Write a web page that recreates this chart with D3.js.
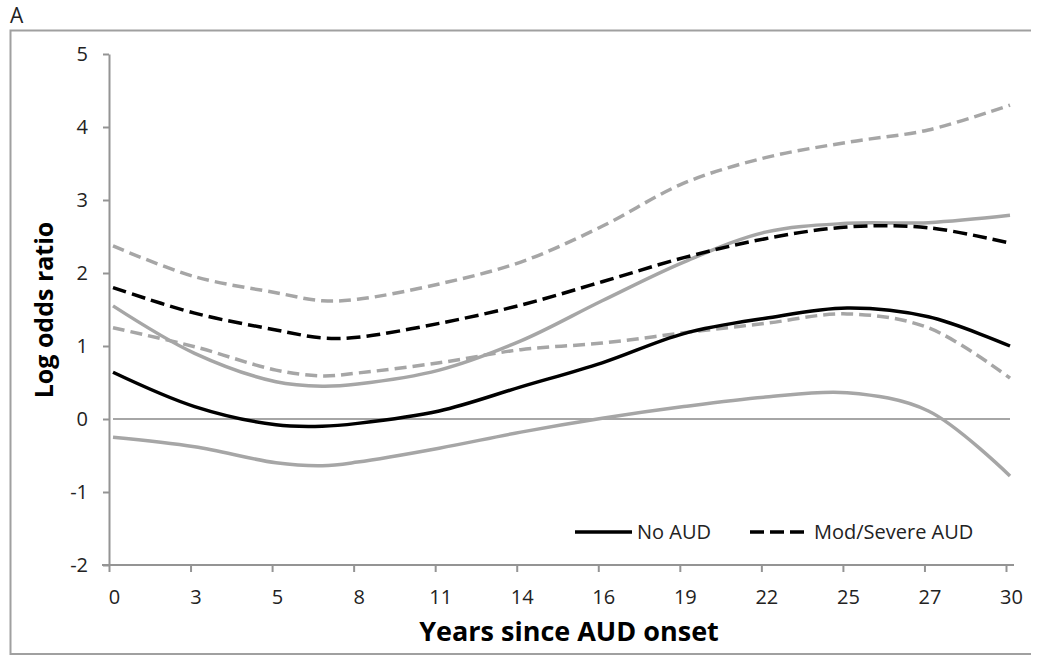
<!DOCTYPE html>
<html>
<head>
<meta charset="utf-8">
<script src="https://cdn.jsdelivr.net/npm/d3@7"></script>
<style>
  html, body { margin: 0; padding: 0; background: #fff; }
  svg { display: block; font-family: "Open Sans", "Noto Sans", sans-serif; }
</style>
</head>
<body>
<svg id="chart" width="1040" height="658"></svg>
<script>
// Years since AUD onset at which the fitted curves are sampled
const years = [0, 2.73, 5.45, 7, 8.18, 10.91, 13.64, 16.36, 19.09, 21.82, 24.55, 27.27, 30];

// Log odds ratio: No AUD (estimate and 95% CI)
const noAud      = [0.64, 0.17, -0.08, -0.10, -0.06, 0.11, 0.44, 0.77, 1.17, 1.38, 1.52, 1.40, 1.00];
const noAudUpper = [1.55, 0.90, 0.51, 0.45, 0.48, 0.67, 1.07, 1.62, 2.15, 2.56, 2.68, 2.69, 2.79];
const noAudLower = [-0.25, -0.38, -0.60, -0.64, -0.59, -0.40, -0.18, 0.01, 0.17, 0.30, 0.36, 0.11, -0.78];

// Log odds ratio: Mod/Severe AUD (estimate and 95% CI)
const modSev      = [1.80, 1.45, 1.22, 1.11, 1.12, 1.31, 1.56, 1.88, 2.21, 2.47, 2.63, 2.62, 2.41];
const modSevUpper = [2.37, 1.95, 1.73, 1.62, 1.64, 1.85, 2.15, 2.64, 3.23, 3.58, 3.79, 3.96, 4.30];
const modSevLower = [1.25, 0.99, 0.67, 0.59, 0.63, 0.77, 0.95, 1.04, 1.18, 1.31, 1.44, 1.25, 0.56];

// Axis ticks
const xTickLabels = ["0", "3", "5", "8", "11", "14", "16", "19", "22", "25", "27", "30"];
const yTicks = [-2, -1, 0, 1, 2, 3, 4, 5];

const GRAY = "#a6a6a6";
const AXIS = "#949494";

const svg = d3.select("#chart");

const x = d3.scaleLinear().domain([0, 30]).range([113, 1010]);
const y = d3.scaleLinear().domain([-2, 5]).range([565, 54]);

// Outer frame
svg.append("path")
  .attr("d", "M1031,30.5 H10.5 V654 H1031")
  .attr("fill", "none")
  .attr("stroke", "#a0a0a0")
  .attr("stroke-width", 2);

// Panel letter
svg.append("text")
  .attr("x", 10).attr("y", 23)
  .attr("font-size", 21)
  .attr("fill", "#222")
  .text("A");

// Y axis
const yAxis = svg.append("g")
  .attr("transform", "translate(109,0)")
  .call(d3.axisLeft(y).tickValues(yTicks).tickSize(6).tickSizeOuter(0).tickPadding(15)
    .tickFormat(d3.format("d")));
yAxis.select(".domain").attr("stroke", AXIS).attr("stroke-width", 2);
yAxis.selectAll(".tick line").attr("stroke", AXIS).attr("stroke-width", 2);
yAxis.selectAll(".tick text")
  .attr("font-size", 20).attr("fill", "#222")
  .attr("font-family", "'Open Sans', sans-serif")
  .text(d => d < 0 ? "-" + Math.abs(d) : d);

// X axis (category-style ticks between points, labels on points)
const tickYears = xTickLabels.map((_, i) => i * 30 / 11);
const xAxis = svg.append("g")
  .attr("transform", "translate(0,565)")
  .call(d3.axisBottom(x).tickValues(tickYears).tickSize(7).tickSizeOuter(0)
    .tickFormat((d, i) => xTickLabels[i]));
xAxis.select(".domain").remove();
xAxis.append("line")
  .attr("x1", 102).attr("x2", 1014)
  .attr("y1", 0).attr("y2", 0)
  .attr("stroke", AXIS).attr("stroke-width", 2);
xAxis.selectAll(".tick line")
  .attr("x1", -4).attr("x2", -4)
  .attr("stroke", AXIS).attr("stroke-width", 2);
xAxis.selectAll(".tick text")
  .attr("x", 1).attr("y", 39).attr("dy", 0)
  .attr("font-size", 20).attr("fill", "#222")
  .attr("font-family", "'Open Sans', sans-serif");

// Axis titles
svg.append("text")
  .attr("x", 569).attr("y", 641)
  .attr("text-anchor", "middle")
  .attr("font-size", 27).attr("font-weight", "bold").attr("fill", "#000")
  .text("Years since AUD onset");

svg.append("text")
  .attr("transform", "translate(53,310) rotate(-90)")
  .attr("text-anchor", "middle")
  .attr("font-size", 25).attr("font-weight", "bold").attr("fill", "#000")
  .text("Log odds ratio");

// Zero reference line
svg.append("line")
  .attr("x1", x(0)).attr("x2", x(30))
  .attr("y1", y(0)).attr("y2", y(0))
  .attr("stroke", GRAY).attr("stroke-width", 2);

const line = d3.line()
  .x(d => x(d[0]))
  .y(d => y(d[1]))
  .curve(d3.curveCatmullRom.alpha(0.5));

const series = [
  { values: modSevUpper, color: GRAY, dash: "12,6" },
  { values: modSevLower, color: GRAY, dash: "12,6" },
  { values: noAudUpper,  color: GRAY, dash: null },
  { values: noAudLower,  color: GRAY, dash: null },
  { values: modSev,      color: "#000", dash: "14,6" },
  { values: noAud,       color: "#000", dash: null }
];

svg.append("g").selectAll("path")
  .data(series)
  .join("path")
  .attr("d", s => line(years.map((t, i) => [t, s.values[i]])))
  .attr("fill", "none")
  .attr("stroke", s => s.color)
  .attr("stroke-width", 3.5)
  .attr("stroke-dasharray", s => s.dash);

// Legend
const legend = [
  { label: "No AUD", dash: null, x1: 575, x2: 632, tx: 637 },
  { label: "Mod/Severe AUD", dash: "14,6", x1: 750, x2: 804, tx: 814 }
];
const lg = svg.append("g");
lg.selectAll("line")
  .data(legend)
  .join("line")
  .attr("x1", d => d.x1).attr("x2", d => d.x2)
  .attr("y1", 532).attr("y2", 532)
  .attr("stroke", "#000").attr("stroke-width", 3.5)
  .attr("stroke-dasharray", d => d.dash);
lg.selectAll("text")
  .data(legend)
  .join("text")
  .attr("x", d => d.tx).attr("y", 539)
  .attr("font-size", 20).attr("fill", "#222")
  .text(d => d.label);
</script>
</body>
</html>
